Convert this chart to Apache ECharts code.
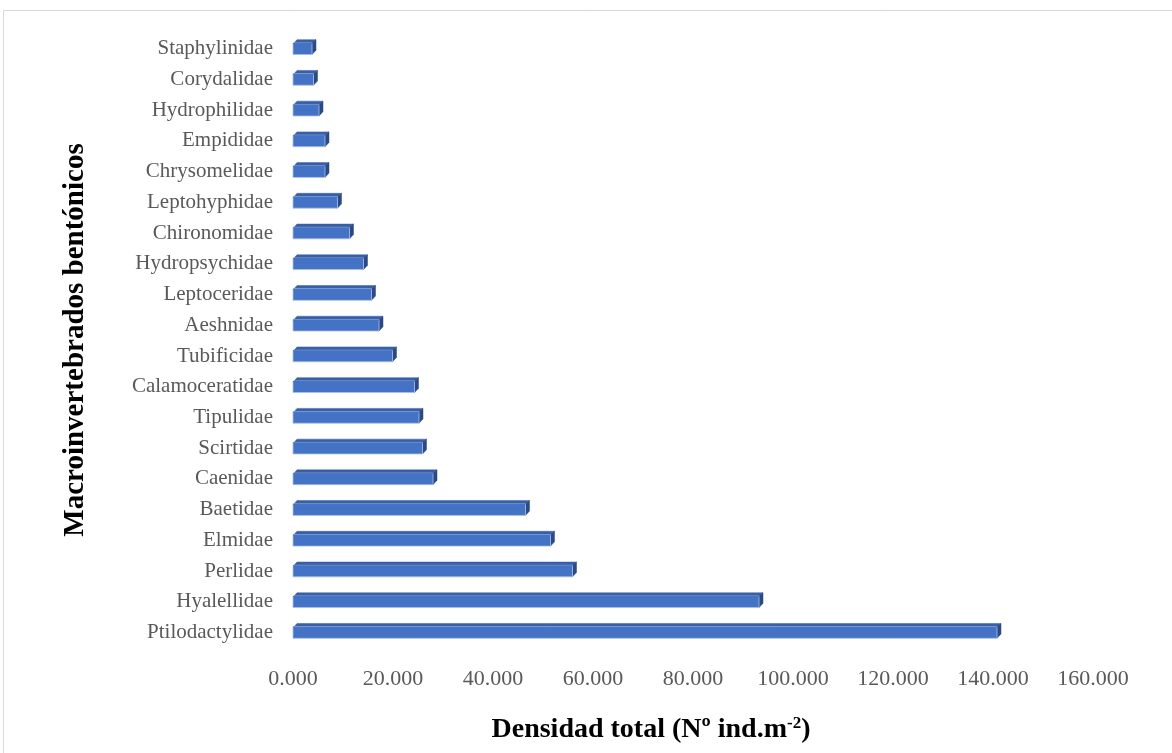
<!DOCTYPE html>
<html>
<head>
<meta charset="utf-8">
<script src="https://cdn.jsdelivr.net/npm/echarts@6/dist/echarts.min.js"></script>
<style>
  html, body { margin: 0; padding: 0; background: #ffffff; }
  #chart { width: 1172px; height: 753px; }
</style>
</head>
<body>
<div id="chart"></div>
<script>
// Families, listed bottom to top as they appear on the category axis
const families = [
  'Ptilodactylidae', 'Hyalellidae', 'Perlidae', 'Elmidae', 'Baetidae',
  'Caenidae', 'Scirtidae', 'Tipulidae', 'Calamoceratidae', 'Tubificidae',
  'Aeshnidae', 'Leptoceridae', 'Hydropsychidae', 'Chironomidae', 'Leptohyphidae',
  'Chrysomelidae', 'Empididae', 'Hydrophilidae', 'Corydalidae', 'Staphylinidae'
];

// Total density (Nº ind.m-2) per family
const density = [
  140.8, 93.2, 55.9, 51.5, 46.5,
  28.0, 25.9, 25.2, 24.3, 19.9,
  17.2, 15.7, 14.1, 11.3, 8.9,
  6.4, 6.4, 5.2, 4.1, 3.8
];

// Value axis ticks
const xTicks = [0, 20, 40, 60, 80, 100, 120, 140, 160];

const seriesData = families.map((f, i) => [i, density[i]]);

const chart = echarts.init(document.getElementById('chart'));

// Box-shaped bar: front face, top face and right side face
function renderBox(params, api) {
  const idx = api.value(0);
  const val = api.value(1);
  const start = api.coord([0, idx]);
  const end = api.coord([val, idx]);
  const band = api.size([0, 1])[1];
  const h = band * 0.375;
  const dx = 4, dy = 3.3;
  const x0 = start[0], x1 = end[0];
  const yTop = start[1] - h / 2, yBot = start[1] + h / 2;
  return {
    type: 'group',
    children: [
      {
        type: 'polygon',
        shape: { points: [[x0 + 1, yTop], [x1, yTop], [x1 + dx, yTop - dy], [x0 + dx, yTop - dy]] },
        style: { fill: '#3860a8', stroke: '#3a5d9c', lineWidth: 0.5 }
      },
      {
        type: 'polygon',
        shape: { points: [[x1, yTop], [x1 + dx, yTop - dy], [x1 + dx, yBot - dy - 1], [x1, yBot]] },
        style: { fill: '#2b4a84', stroke: '#2b4a84', lineWidth: 0.5 }
      },
      {
        type: 'rect',
        shape: { x: x0, y: yTop, width: x1 - x0, height: h },
        style: { fill: '#4472c4', stroke: '#a9c0e8', lineWidth: 0.8 }
      },
      {
        type: 'line',
        shape: { x1: x0, y1: yTop + 0.5, x2: x1, y2: yTop + 0.5 },
        style: { stroke: '#4472c4', lineWidth: 1 }
      }
    ]
  };
}

chart.setOption({
  animation: false,
  backgroundColor: '#ffffff',
  grid: { left: 293, right: 79, top: 33.4, bottom: 105.1, containLabel: false },
  xAxis: {
    type: 'value',
    min: 0,
    max: 160,
    interval: 20,
    axisLine: { show: false },
    axisTick: { show: false },
    splitLine: { show: false },
    axisLabel: {
      margin: 20,
      color: '#595959',
      fontFamily: 'Liberation Serif',
      fontSize: 22,
      formatter: v => xTicks.includes(v) ? v.toFixed(3) : ''
    }
  },
  yAxis: {
    type: 'category',
    data: families,
    axisLine: { show: false },
    axisTick: { show: false },
    axisLabel: {
      margin: 20,
      color: '#595959',
      fontFamily: 'Liberation Serif',
      fontSize: 21
    }
  },
  series: [{
    type: 'custom',
    renderItem: renderBox,
    encode: { x: 1, y: 0 },
    data: seriesData,
    clip: false
  }],
  graphic: [
    {
      type: 'rect',
      shape: { x: 3.5, y: 10.5, width: 1200, height: 800 },
      style: { fill: 'none', stroke: '#d9d9d9', lineWidth: 1 },
      silent: true
    },
    {
      type: 'text',
      x: 76,
      y: 340,
      rotation: Math.PI / 2,
      style: {
        text: 'Macroinvertebrados bentónicos',
        fontFamily: 'Liberation Serif',
        fontWeight: 'bold',
        fontSize: 29,
        fill: '#000000',
        align: 'center',
        verticalAlign: 'middle'
      }
    },
    {
      type: 'text',
      x: 651,
      y: 730,
      style: {
        text: '{a|Densidad total (Nº ind.m}{s|-2}{a|)}',
        align: 'center',
        verticalAlign: 'middle',
        rich: {
          a: { fontFamily: 'Liberation Serif', fontWeight: 'bold', fontSize: 28, fill: '#000000' },
          s: { fontFamily: 'Liberation Serif', fontWeight: 'bold', fontSize: 17, fill: '#000000', verticalAlign: 'top', padding: [0, 0, 12, 0] }
        }
      }
    }
  ]
});
</script>
</body>
</html>
